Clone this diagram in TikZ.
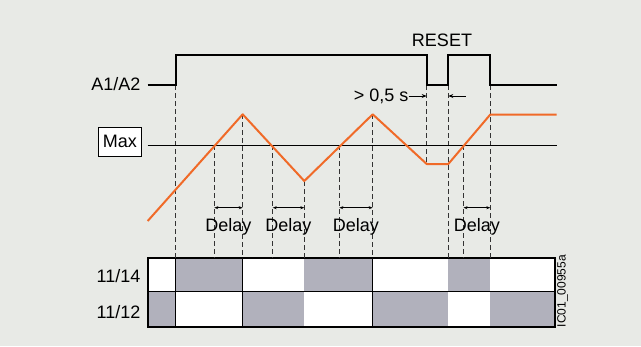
\documentclass[tikz,border=0pt]{standalone}
\usepackage{fontspec}
\setmainfont{Liberation Sans}
\usetikzlibrary{arrows.meta}
\definecolor{bg}{HTML}{E8EAE6}
\definecolor{orng}{HTML}{F06A28}
\definecolor{cellgray}{HTML}{B1B1BC}
\tikzset{
  sig/.style={line width=2pt},
  ramp/.style={orng, line width=2pt, line join=round},
  guide/.style={dashed, dash pattern=on 5pt off 3pt, line width=0.8pt, black!80},
  lbl/.style={font=\fontsize{18}{18}\selectfont, inner sep=0pt},
  dly/.style={{Stealth[length=4pt,width=3pt]}-{Stealth[length=4pt,width=3pt]}, line width=0.8pt},
  sarrow/.style={-{Stealth[length=5pt,width=4pt]}, line width=0.8pt},
  cellg/.style={fill=cellgray},
  cellw/.style={fill=white},
}
\begin{document}
\begin{tikzpicture}[x=1pt,y=-1pt]
\fill[bg] (0,0) rectangle (641,346);
\useasboundingbox (0,0) rectangle (641,346);

% coordinates of the ramp
\coordinate (r0) at (147.7,221);
\coordinate (p1) at (242.7,114.3);
\coordinate (v1) at (304.3,181);
\coordinate (p2) at (372.7,114.3);
\coordinate (b1) at (426.7,164);
\coordinate (b2) at (448.3,164);
\coordinate (p3) at (490.3,114.5);
\coordinate (r1) at (556.7,114.5);

% relay cells
\def\ytop{258.3}\def\ymid{291.7}\def\ybot{326.7}
\foreach \xa/\xb/\sa/\sb in {147.7/175.7/cellw/cellg, 175.7/242.7/cellg/cellw, 242.7/304.3/cellw/cellg, 304.3/372.7/cellg/cellw, 372.7/448.3/cellw/cellg, 448.3/490.3/cellg/cellw, 490.3/555/cellw/cellg}{
  \path[\sa] (\xa,\ytop) rectangle (\xb,\ymid);
  \path[\sb] (\xa,\ymid) rectangle (\xb,\ybot);
  \draw[line width=1.3pt] (\xb,\ytop) -- (\xb,\ybot);
}
\draw[line width=1.3pt] (147.7,\ymid) -- (555,\ymid);
\draw[line width=2pt] (147.7,\ytop) rectangle (555,\ybot);

% dashed guides
\draw[guide] (175.7,85) -- (175.7,\ytop);
\draw[guide] (214.3,145.3) -- (214.3,\ytop);
\draw[guide] (p1) -- (242.7,\ytop);
\draw[guide] (272.7,145.3) -- (272.7,\ytop);
\draw[guide] (v1) -- (304.3,\ytop);
\draw[guide] (339.3,145.3) -- (339.3,\ytop);
\draw[guide] (p2) -- (372.7,\ytop);
\draw[guide] (426.7,85) -- (b1);
\draw[guide] (448.3,85) -- (448.3,\ytop);
\draw[guide] (463.5,145.3) -- (463.5,\ytop);
\draw[guide] (490.3,85) -- (490.3,\ytop);

% Max line
\node[draw, line width=1.3pt, fill=white, minimum width=43pt, minimum height=29pt, inner sep=0pt, font=\fontsize{18}{18}\selectfont] (max) at (119.8,141.7) {Max};
\coordinate (maxend) at (557,145.3);
\draw[line width=1pt] (147.7,145.3) -- (maxend);

% A1/A2 signal
\node[lbl, anchor=east] (a1a2) at (140.5,84.5) {A1/A2};
\coordinate (sEnd) at (556.7,85);
\draw[sig, line join=miter] (147.7,85) -- (175.7,85) -- (175.7,55) -- (426.7,55) -- (426.7,85) -- (448.3,85) -- (448.3,55) -- (490.3,55) -- (490.3,85) -- (sEnd);

% ramp
\draw[ramp] (r0) -- (p1) -- (v1) -- (p2) -- (b1) -- (b2) -- (p3) -- (r1);

% RESET label
\node[lbl] (reset) at (442,40.5) {RESET};

% > 0,5 s
\node[lbl, anchor=east] (gt) at (408.5,96) {> 0,5 s};
\coordinate (g1) at (426.7,96);
\coordinate (g2) at (448.3,96);
\coordinate (g3) at (465.5,96);
\draw[sarrow] (gt.east) -- (g1);
\draw[sarrow] (g3) -- (g2);

% Delay arrows
\foreach \xa/\xb/\n in {214.3/242.7/d1, 272.7/304.3/d2, 339.3/372.7/d3, 463.5/490.3/d4}{
  \draw[dly] (\xa,207.7) -- (\xb,207.7);
  \node[lbl] (\n) at ({(\xa+\xb)/2},227) {Delay};
}

% row labels
\node[lbl, anchor=east] (r14) at (140.5,276.5) {11/14};
\node[lbl, anchor=east] (r12) at (140.5,312) {11/12};

% figure id
\node[rotate=90, font=\fontsize{12}{12}\selectfont, inner sep=0pt] (fid) at (562.5,291) {IC01\_00955a};
\end{tikzpicture}
\end{document}
